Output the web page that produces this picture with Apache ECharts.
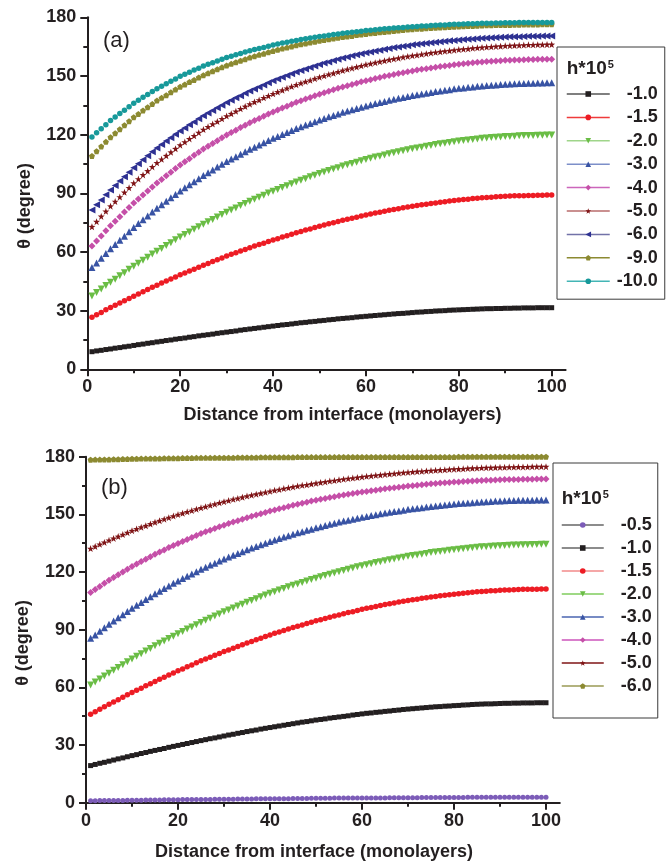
<!DOCTYPE html>
<html><head><meta charset="utf-8">
<script src="https://cdn.jsdelivr.net/npm/echarts@6/dist/echarts.min.js"></script>
<style>html,body{margin:0;padding:0;background:#fff}#c{width:670px;height:861px}</style>
</head><body><div id="c"></div>
<script>
// ---------- data ----------
const distance = [1,2,3,4,5,6,7,8,9,10,11,12,13,14,15,16,17,18,19,20,21,22,23,24,25,26,27,28,29,30,31,32,33,34,35,36,37,38,39,40,41,42,43,44,45,46,47,48,49,50,51,52,53,54,55,56,57,58,59,60,61,62,63,64,65,66,67,68,69,70,71,72,73,74,75,76,77,78,79,80,81,82,83,84,85,86,87,88,89,90,91,92,93,94,95,96,97,98,99,100];
const xTickValues = [0, 20, 40, 60, 80, 100];
const xMinorTickValues = [10, 30, 50, 70, 90];
const legendTitle = 'h*10';
const legendExponent = '5';
const hLabelsA = ['-1.0', '-1.5', '-2.0', '-3.0', '-4.0', '-5.0', '-6.0', '-9.0', '-10.0'];
const hLabelsB = ['-0.5', '-1.0', '-1.5', '-2.0', '-3.0', '-4.0', '-5.0', '-6.0'];

// panel (a)
const thetaA_h1_0 = [9.0,9.4,9.7,10.1,10.4,10.8,11.1,11.5,11.8,12.2,12.6,12.9,13.3,13.6,14.0,14.3,14.7,15.0,15.4,15.7,16.0,16.4,16.7,17.1,17.4,17.7,18.0,18.4,18.7,19.0,19.3,19.6,20.0,20.3,20.6,20.9,21.2,21.5,21.8,22.1,22.4,22.7,22.9,23.2,23.5,23.8,24.0,24.3,24.5,24.8,25.0,25.3,25.5,25.8,26.0,26.2,26.4,26.7,26.9,27.1,27.3,27.5,27.7,27.9,28.1,28.3,28.5,28.6,28.8,29.0,29.2,29.3,29.5,29.6,29.8,29.9,30.0,30.2,30.3,30.4,30.5,30.6,30.7,30.8,30.9,31.0,31.0,31.1,31.1,31.2,31.2,31.3,31.3,31.4,31.4,31.4,31.5,31.5,31.5,31.5];
const thetaA_h1_5 = [26.6,27.9,29.1,30.4,31.6,32.8,33.9,35.1,36.2,37.4,38.5,39.6,40.8,41.9,43.0,44.1,45.1,46.2,47.2,48.3,49.3,50.3,51.2,52.2,53.2,54.1,55.1,56.0,56.9,57.9,58.8,59.6,60.5,61.3,62.2,63.0,63.8,64.5,65.3,66.1,66.8,67.6,68.3,69.1,69.8,70.5,71.2,71.8,72.5,73.2,73.8,74.4,75.0,75.6,76.2,76.7,77.3,77.8,78.4,78.9,79.4,79.9,80.3,80.8,81.3,81.7,82.1,82.6,83.0,83.4,83.7,84.1,84.4,84.8,85.1,85.4,85.7,86.0,86.3,86.6,86.8,87.0,87.3,87.5,87.7,87.9,88.0,88.2,88.3,88.5,88.6,88.7,88.7,88.8,88.9,88.9,89.0,89.0,89.1,89.1];
const thetaA_h2_0 = [37.5,39.3,41.0,42.8,44.5,46.1,47.8,49.4,51.1,52.7,54.2,55.8,57.3,58.9,60.4,61.8,63.3,64.7,66.2,67.6,68.9,70.2,71.6,72.9,74.2,75.4,76.6,77.9,79.1,80.3,81.4,82.5,83.7,84.8,85.9,86.9,88.0,89.0,90.1,91.1,92.0,93.0,93.9,94.9,95.8,96.7,97.5,98.4,99.2,100.1,100.9,101.6,102.4,103.1,103.9,104.6,105.3,105.9,106.6,107.3,107.9,108.5,109.0,109.6,110.2,110.7,111.2,111.8,112.3,112.8,113.2,113.6,114.1,114.5,114.9,115.3,115.6,116.0,116.3,116.7,117.0,117.3,117.5,117.8,118.1,118.3,118.5,118.6,118.8,119.0,119.1,119.2,119.4,119.5,119.6,119.6,119.7,119.7,119.8,119.8];
const thetaA_h3_0 = [52.0,54.4,56.8,59.2,61.6,63.8,66.0,68.1,70.3,72.5,74.5,76.5,78.4,80.4,82.4,84.2,85.9,87.7,89.4,91.2,92.8,94.4,95.9,97.5,99.1,100.5,101.9,103.4,104.8,106.2,107.5,108.7,110.0,111.2,112.5,113.6,114.7,115.9,117.0,118.1,119.1,120.1,121.1,122.1,123.1,124.0,124.9,125.7,126.6,127.5,128.3,129.1,129.8,130.6,131.4,132.1,132.7,133.4,134.0,134.7,135.3,135.9,136.4,137.0,137.6,138.1,138.6,139.0,139.5,140.0,140.4,140.8,141.2,141.6,142.0,142.3,142.7,143.0,143.4,143.7,143.9,144.2,144.4,144.7,144.9,145.1,145.3,145.4,145.6,145.8,145.9,146.0,146.1,146.2,146.3,146.3,146.4,146.4,146.5,146.5];
const thetaA_h4_0 = [63.0,65.6,68.2,70.8,73.4,75.7,78.0,80.4,82.7,85.0,87.1,89.1,91.2,93.2,95.3,97.1,99.0,100.8,102.7,104.5,106.1,107.7,109.4,111.0,112.6,114.0,115.5,116.9,118.4,119.8,121.1,122.3,123.6,124.8,126.1,127.2,128.3,129.4,130.5,131.6,132.6,133.6,134.5,135.5,136.5,137.3,138.2,139.0,139.9,140.7,141.4,142.2,142.9,143.7,144.4,145.0,145.7,146.3,147.0,147.6,148.1,148.7,149.2,149.8,150.3,150.8,151.2,151.7,152.1,152.6,153.0,153.4,153.7,154.1,154.5,154.8,155.1,155.4,155.7,156.0,156.2,156.5,156.7,157.0,157.2,157.4,157.5,157.7,157.8,158.0,158.1,158.2,158.2,158.3,158.4,158.4,158.5,158.5,158.6,158.6];
const thetaA_h5_0 = [72.9,75.5,78.2,80.8,83.4,85.8,88.1,90.5,92.8,95.2,97.3,99.4,101.4,103.5,105.6,107.4,109.2,111.0,112.8,114.6,116.2,117.8,119.4,121.0,122.6,124.0,125.4,126.7,128.1,129.5,130.7,131.9,133.2,134.4,135.6,136.7,137.7,138.8,139.8,140.9,141.8,142.7,143.7,144.6,145.5,146.3,147.1,147.8,148.6,149.4,150.1,150.8,151.4,152.1,152.8,153.4,154.0,154.6,155.2,155.8,156.3,156.8,157.3,157.8,158.3,158.7,159.1,159.6,160.0,160.4,160.7,161.1,161.4,161.8,162.1,162.4,162.7,162.9,163.2,163.5,163.7,163.9,164.2,164.4,164.6,164.8,164.9,165.1,165.2,165.4,165.5,165.6,165.7,165.8,165.9,165.9,166.0,166.0,166.1,166.1];
const thetaA_h6_0 = [81.5,84.1,86.6,89.2,91.7,94.0,96.3,98.5,100.8,103.1,105.1,107.1,109.2,111.2,113.2,114.9,116.7,118.4,120.2,121.9,123.4,125.0,126.5,128.1,129.6,131.0,132.3,133.7,135.0,136.4,137.6,138.8,139.9,141.1,142.3,143.3,144.4,145.4,146.5,147.5,148.4,149.3,150.2,151.1,152.0,152.8,153.6,154.3,155.1,155.9,156.6,157.2,157.9,158.5,159.2,159.7,160.3,160.8,161.4,161.9,162.3,162.8,163.2,163.7,164.1,164.5,164.8,165.2,165.5,165.9,166.2,166.5,166.7,167.0,167.3,167.5,167.7,168.0,168.2,168.4,168.6,168.8,168.9,169.1,169.3,169.4,169.5,169.7,169.8,169.9,170.0,170.1,170.1,170.2,170.3,170.3,170.3,170.4,170.4,170.4];
const thetaA_h9_0 = [109.1,111.5,113.9,116.3,118.7,120.7,122.8,124.8,126.9,128.9,130.6,132.3,134.0,135.7,137.4,138.8,140.2,141.7,143.1,144.5,145.7,146.9,148.0,149.2,150.4,151.4,152.4,153.4,154.4,155.4,156.2,157.0,157.8,158.6,159.4,160.1,160.8,161.4,162.1,162.8,163.4,164.0,164.5,165.1,165.7,166.2,166.6,167.1,167.5,168.0,168.4,168.8,169.1,169.5,169.9,170.2,170.5,170.9,171.2,171.5,171.8,172.0,172.3,172.5,172.8,173.0,173.2,173.5,173.7,173.9,174.1,174.2,174.4,174.5,174.7,174.8,174.9,175.1,175.2,175.3,175.4,175.5,175.6,175.7,175.8,175.9,175.9,176.0,176.0,176.1,176.1,176.2,176.2,176.3,176.3,176.3,176.3,176.4,176.4,176.4];
const thetaA_h10_0 = [118.8,120.9,123.0,125.1,127.2,129.0,130.8,132.5,134.3,136.1,137.6,139.1,140.5,142.0,143.5,144.8,146.0,147.3,148.5,149.8,150.9,151.9,153.0,154.0,155.1,156.0,156.8,157.7,158.5,159.4,160.1,160.8,161.5,162.2,162.9,163.5,164.1,164.6,165.2,165.8,166.3,166.8,167.2,167.7,168.2,168.6,169.0,169.4,169.8,170.2,170.5,170.8,171.2,171.5,171.8,172.1,172.4,172.6,172.9,173.2,173.4,173.6,173.9,174.1,174.3,174.5,174.7,174.8,175.0,175.2,175.3,175.5,175.6,175.8,175.9,176.0,176.1,176.3,176.4,176.5,176.6,176.7,176.7,176.8,176.9,177.0,177.0,177.1,177.1,177.2,177.2,177.2,177.3,177.3,177.3,177.3,177.4,177.4,177.4,177.4];

// panel (b)
const thetaB_h0_5 = [1.0,1.0,1.1,1.1,1.1,1.1,1.2,1.2,1.3,1.3,1.3,1.3,1.4,1.4,1.4,1.4,1.5,1.5,1.5,1.5,1.6,1.6,1.6,1.7,1.7,1.7,1.7,1.8,1.8,1.8,1.8,1.8,1.9,1.9,1.9,1.9,2.0,2.0,2.0,2.0,2.1,2.1,2.1,2.1,2.2,2.2,2.2,2.2,2.3,2.3,2.3,2.3,2.3,2.4,2.4,2.4,2.4,2.4,2.5,2.5,2.5,2.5,2.5,2.5,2.5,2.6,2.6,2.6,2.6,2.6,2.6,2.6,2.7,2.7,2.7,2.7,2.7,2.7,2.7,2.7,2.7,2.7,2.8,2.8,2.8,2.8,2.8,2.8,2.8,2.8,2.8,2.8,2.8,2.8,2.8,2.8,2.8,2.8,2.8,2.8];
const thetaB_h1_0 = [19.3,19.9,20.5,21.0,21.6,22.2,22.8,23.3,23.9,24.5,25.0,25.6,26.1,26.7,27.2,27.7,28.2,28.8,29.3,29.8,30.3,30.8,31.3,31.8,32.3,32.8,33.3,33.7,34.2,34.7,35.2,35.6,36.1,36.5,37.0,37.4,37.8,38.3,38.7,39.1,39.5,39.9,40.3,40.7,41.1,41.5,41.9,42.2,42.6,43.0,43.3,43.6,44.0,44.3,44.6,44.9,45.2,45.6,45.9,46.2,46.5,46.7,47.0,47.2,47.5,47.7,48.0,48.2,48.5,48.7,48.9,49.1,49.3,49.5,49.7,49.9,50.0,50.2,50.3,50.5,50.6,50.8,50.9,51.1,51.2,51.3,51.4,51.4,51.5,51.6,51.7,51.7,51.8,51.8,51.9,51.9,51.9,52.0,52.0,52.0];
const thetaB_h1_5 = [46.0,47.3,48.6,49.9,51.2,52.4,53.6,54.9,56.1,57.3,58.5,59.6,60.8,61.9,63.1,64.2,65.3,66.4,67.5,68.6,69.6,70.7,71.7,72.8,73.8,74.8,75.7,76.7,77.6,78.6,79.5,80.4,81.3,82.2,83.1,83.9,84.8,85.6,86.5,87.3,88.1,88.8,89.6,90.3,91.1,91.8,92.5,93.2,93.9,94.6,95.2,95.8,96.5,97.1,97.7,98.3,98.9,99.4,100.0,100.6,101.1,101.6,102.1,102.6,103.1,103.5,103.9,104.4,104.8,105.2,105.6,105.9,106.3,106.6,107.0,107.3,107.6,107.9,108.2,108.5,108.7,109.0,109.2,109.5,109.7,109.9,110.0,110.2,110.3,110.5,110.6,110.7,110.8,110.9,111.0,111.0,111.1,111.1,111.2,111.2];
const thetaB_h2_0 = [61.2,62.8,64.3,65.9,67.4,68.9,70.4,71.8,73.3,74.8,76.2,77.5,78.9,80.2,81.6,82.9,84.1,85.4,86.6,87.9,89.1,90.3,91.4,92.6,93.8,94.9,96.0,97.1,98.2,99.3,100.3,101.3,102.3,103.3,104.3,105.2,106.1,107.1,108.0,108.9,109.7,110.6,111.4,112.3,113.1,113.8,114.6,115.3,116.1,116.8,117.5,118.2,118.8,119.5,120.2,120.8,121.4,122.1,122.7,123.3,123.8,124.3,124.9,125.4,125.9,126.4,126.8,127.3,127.7,128.2,128.6,128.9,129.3,129.7,130.1,130.4,130.7,131.0,131.3,131.6,131.9,132.1,132.4,132.6,132.9,133.1,133.2,133.4,133.5,133.7,133.8,133.9,134.0,134.1,134.2,134.2,134.3,134.3,134.4,134.4];
const thetaB_h3_0 = [85.5,87.3,89.2,91.0,92.8,94.5,96.2,97.8,99.5,101.2,102.7,104.2,105.7,107.2,108.7,110.0,111.4,112.7,114.1,115.4,116.6,117.8,119.0,120.2,121.4,122.5,123.6,124.6,125.7,126.8,127.8,128.7,129.7,130.6,131.6,132.5,133.3,134.2,135.0,135.9,136.7,137.4,138.2,138.9,139.7,140.4,141.0,141.7,142.3,143.0,143.6,144.2,144.8,145.4,146.0,146.5,147.0,147.5,148.0,148.5,148.9,149.4,149.8,150.3,150.7,151.1,151.5,151.8,152.2,152.6,152.9,153.2,153.5,153.8,154.1,154.4,154.6,154.9,155.1,155.4,155.6,155.8,155.9,156.1,156.3,156.4,156.6,156.7,156.9,157.0,157.1,157.2,157.2,157.3,157.4,157.4,157.4,157.5,157.5,157.5];
const thetaB_h4_0 = [109.3,110.9,112.5,114.1,115.7,117.1,118.6,120.0,121.5,122.9,124.2,125.5,126.7,128.0,129.3,130.4,131.5,132.7,133.8,134.9,135.9,136.9,138.0,139.0,140.0,140.9,141.8,142.6,143.5,144.4,145.2,146.0,146.7,147.5,148.3,149.0,149.7,150.3,151.0,151.7,152.3,152.9,153.5,154.1,154.7,155.2,155.8,156.3,156.9,157.4,157.9,158.3,158.8,159.2,159.7,160.1,160.5,160.8,161.2,161.6,161.9,162.3,162.6,163.0,163.3,163.6,163.9,164.1,164.4,164.7,164.9,165.2,165.4,165.7,165.9,166.1,166.3,166.4,166.6,166.8,166.9,167.1,167.2,167.4,167.5,167.6,167.7,167.8,167.9,168.0,168.1,168.1,168.2,168.2,168.3,168.3,168.3,168.4,168.4,168.4];
const thetaB_h5_0 = [132.2,133.3,134.4,135.4,136.5,137.5,138.5,139.5,140.5,141.5,142.4,143.3,144.1,145.0,145.9,146.7,147.5,148.3,149.1,149.9,150.6,151.3,152.0,152.7,153.4,154.0,154.7,155.3,156.0,156.6,157.2,157.8,158.3,158.9,159.5,160.0,160.5,161.0,161.5,162.0,162.5,162.9,163.4,163.8,164.3,164.7,165.1,165.4,165.8,166.2,166.6,166.9,167.3,167.6,168.0,168.3,168.6,168.9,169.2,169.5,169.8,170.0,170.3,170.5,170.8,171.0,171.2,171.5,171.7,171.9,172.1,172.3,172.4,172.6,172.8,172.9,173.1,173.2,173.4,173.5,173.6,173.7,173.9,174.0,174.1,174.2,174.3,174.3,174.4,174.5,174.5,174.6,174.6,174.7,174.7,174.7,174.8,174.8,174.8,174.8];
const thetaB_h6_0 = [178.4,178.5,178.5,178.6,178.6,178.7,178.7,178.8,178.8,178.9,178.9,179.0,179.0,179.1,179.1,179.1,179.2,179.2,179.2,179.2,179.3,179.3,179.3,179.4,179.4,179.4,179.4,179.5,179.5,179.5,179.5,179.5,179.6,179.6,179.6,179.6,179.6,179.7,179.7,179.7,179.7,179.7,179.7,179.7,179.7,179.8,179.8,179.8,179.8,179.8,179.8,179.8,179.8,179.8,179.9,179.9,179.9,179.9,179.9,179.9,179.9,179.9,179.9,179.9,179.9,179.9,179.9,179.9,179.9,179.9,179.9,179.9,179.9,179.9,179.9,179.9,179.9,179.9,179.9,179.9,180.0,180.0,180.0,180.0,180.0,180.0,180.0,180.0,180.0,180.0,180.0,180.0,180.0,180.0,180.0,180.0,180.0,180.0,180.0,180.0];

const valuesA = [thetaA_h1_0, thetaA_h1_5, thetaA_h2_0, thetaA_h3_0, thetaA_h4_0, thetaA_h5_0, thetaA_h6_0, thetaA_h9_0, thetaA_h10_0];
const valuesB = [thetaB_h0_5, thetaB_h1_0, thetaB_h1_5, thetaB_h2_0, thetaB_h3_0, thetaB_h4_0, thetaB_h5_0, thetaB_h6_0];

// ---------- styles ----------
const FF = '"Liberation Sans", Arial, Helvetica, sans-serif';
const INK = '#231f20';
const STAR = 'path://M0,-10 L2.35,-3.24 L9.51,-3.09 L3.8,1.24 L5.88,8.09 L0,4 L-5.88,8.09 L-3.8,1.24 L-9.51,-3.09 L-2.35,-3.24 Z';
const PENT = 'path://M0,-10 L9.51,-3.09 L5.88,8.09 L-5.88,8.09 L-9.51,-3.09 Z';
const styleA = [
  {symbol:'rect', size:5, color:'#231f20', line:'#555555'},
  {symbol:'circle', size:5.5, color:'#ed1c24', line:'#ef3b3b'},
  {symbol:'triangle', rot:180, size:7, color:'#6abd45', line:'#9fd58a'},
  {symbol:'triangle', size:7, color:'#3853a4', line:'#7d8fc9'},
  {symbol:'diamond', size:7, color:'#c54fa8', line:'#cc66bb'},
  {symbol:STAR, size:7, color:'#7f1416', line:'#b86b6b'},
  {symbol:'triangle', rot:90, size:7, color:'#2e3192', line:'#7272a8'},
  {symbol:PENT, size:6, color:'#8c8a31', line:'#8c8a31'},
  {symbol:'circle', size:5.5, color:'#17999a', line:'#43b5b5'}
];
const styleB = [
  {symbol:'circle', size:5, color:'#7c5cb8', line:'#666666'},
  {symbol:'rect', size:5, color:'#231f20', line:'#666666'},
  {symbol:'circle', size:5.5, color:'#ed1c24', line:'#f28a8a'},
  {symbol:'triangle', rot:180, size:7, color:'#6abd45', line:'#7fcc5c'},
  {symbol:'triangle', size:7, color:'#3853a4', line:'#4a64b0'},
  {symbol:'diamond', size:7, color:'#c54fa8', line:'#cc55bb'},
  {symbol:STAR, size:7, color:'#7f1416', line:'#7f1416'},
  {symbol:PENT, size:6, color:'#8c8a31', line:'#9a9a55'}
];

function makeSeries(prefix, labels, values, styles, axisIndex) {
  return labels.map((lab, i) => ({
    name: prefix + lab,
    type: 'line',
    xAxisIndex: axisIndex, yAxisIndex: axisIndex === 0 ? 0 : 1,
    data: distance.map((d, k) => [d, values[i][k]]),
    symbol: styles[i].symbol, symbolSize: styles[i].size, symbolRotate: styles[i].rot || 0,
    showSymbol: true, showAllSymbol: true, clip: false,
    itemStyle: {color: styles[i].color},
    lineStyle: {width: 0, opacity: 0},
    emphasis: {disabled: true},
    animation: false
  }));
}
function makeLegend(prefix, labels, styles, pos) {
  return {
    orient: 'vertical', left: pos.left, top: pos.top, padding: pos.padding,
    borderColor: '#3a3a3a', borderWidth: 1,
    itemWidth: pos.iw, itemHeight: 7, itemGap: pos.gap, selectedMode: false,
    data: labels.map((lab, i) => ({name: prefix + lab, lineStyle: {color: styles[i].line, width: 1.5, opacity: 1, type: 'solid'}})),
    formatter: n => '{v|' + n.slice(prefix.length) + '}',
    textStyle: {rich: {v: {width: 43, align: 'right', fontSize: 18, fontWeight: 'bold', fontFamily: FF, color: INK, lineHeight: 20, height: 20}}}
  };
}
function mainX(grid) {
  return {gridIndex: grid, type: 'value', min: 0, max: 103, position: 'bottom',
    axisLine: {show: true, onZero: false, lineStyle: {color: INK, width: 2}},
    axisTick: {show: true, length: 7, customValues: xTickValues, lineStyle: {color: INK, width: 2}},
    axisLabel: {customValues: xTickValues, margin: 9, fontSize: 18, fontWeight: 'bold', fontFamily: FF, color: INK},
    splitLine: {show: false}};
}
function minorX(grid) {
  return {gridIndex: grid, type: 'value', min: 0, max: 103, position: 'bottom',
    axisLine: {show: false}, axisLabel: {show: false}, splitLine: {show: false},
    axisTick: {show: true, length: 4, customValues: xMinorTickValues, lineStyle: {color: INK, width: 2}}};
}
function mainY(grid) {
  return {gridIndex: grid, type: 'value', min: 0, max: 180, interval: 30,
    axisLine: {show: true, onZero: false, lineStyle: {color: INK, width: 2}},
    axisTick: {show: true, length: 7, lineStyle: {color: INK, width: 2}},
    minorTick: {show: true, splitNumber: 2, length: 4, lineStyle: {color: INK, width: 2}},
    axisLabel: {margin: 11, fontSize: 18, fontWeight: 'bold', fontFamily: FF, color: INK},
    splitLine: {show: false}, minorSplitLine: {show: false}};
}
const txt = (x, y, text, extra) => Object.assign({type: 'text', x: x, y: y, z: 100, silent: true,
  style: Object.assign({text: text, fill: INK, fontFamily: FF, align: 'center', verticalAlign: 'middle'}, extra && extra.style || {})},
  extra && extra.el || {});
const legendHead = (x, y) => ({type: 'text', x: x, y: y, z: 100, silent: true, style: {
  text: '{b|' + legendTitle + '}{s|' + legendExponent + '}', fill: INK, align: 'left', verticalAlign: 'middle',
  rich: {b: {fontSize: 19, fontWeight: 'bold', fontFamily: FF, fill: INK, verticalAlign: 'bottom'},
         s: {fontSize: 11, fontWeight: 'bold', fontFamily: FF, fill: INK, verticalAlign: 'top', padding: [0, 0, 0, 1]}}}});

const chart = echarts.init(document.getElementById('c'), null, {renderer: 'canvas'});
chart.setOption({
  animation: false,
  backgroundColor: '#ffffff',
  grid: [
    {left: 87.3, top: 17.3, width: 478.3, height: 352},
    {left: 86, top: 456.7, width: 473.8, height: 346}
  ],
  xAxis: [mainX(0), minorX(0), mainX(1), minorX(1)],
  yAxis: [mainY(0), mainY(1)],
  legend: [
    makeLegend('a', hLabelsA, styleA, {left: 557, top: 47, padding: [37, 7, 8, 9], iw: 43, gap: 3.4}),
    makeLegend('b', hLabelsB, styleB, {left: 553, top: 463, padding: [52, 6, 22, 8], iw: 42, gap: 3})
  ],
  series: makeSeries('a', hLabelsA, valuesA, styleA, 0).concat(makeSeries('b', hLabelsB, valuesB, styleB, 2)),
  graphic: {elements: [
    txt(103, 41, '(a)', {style: {fontSize: 22, align: 'left'}}),
    txt(101, 488, '(b)', {style: {fontSize: 22, align: 'left'}}),
    txt(342.5, 415, 'Distance from interface (monolayers)', {style: {fontSize: 18, fontWeight: 'bold'}}),
    txt(314, 852, 'Distance from interface (monolayers)', {style: {fontSize: 18, fontWeight: 'bold'}}),
    txt(25, 206, 'θ (degree)', {style: {fontSize: 18, fontWeight: 'bold'}, el: {rotation: Math.PI / 2}}),
    txt(23, 643, 'θ (degree)', {style: {fontSize: 18, fontWeight: 'bold'}, el: {rotation: Math.PI / 2}}),
    legendHead(566.7, 69),
    legendHead(561.7, 499)
  ]}
});
</script>
</body></html>
